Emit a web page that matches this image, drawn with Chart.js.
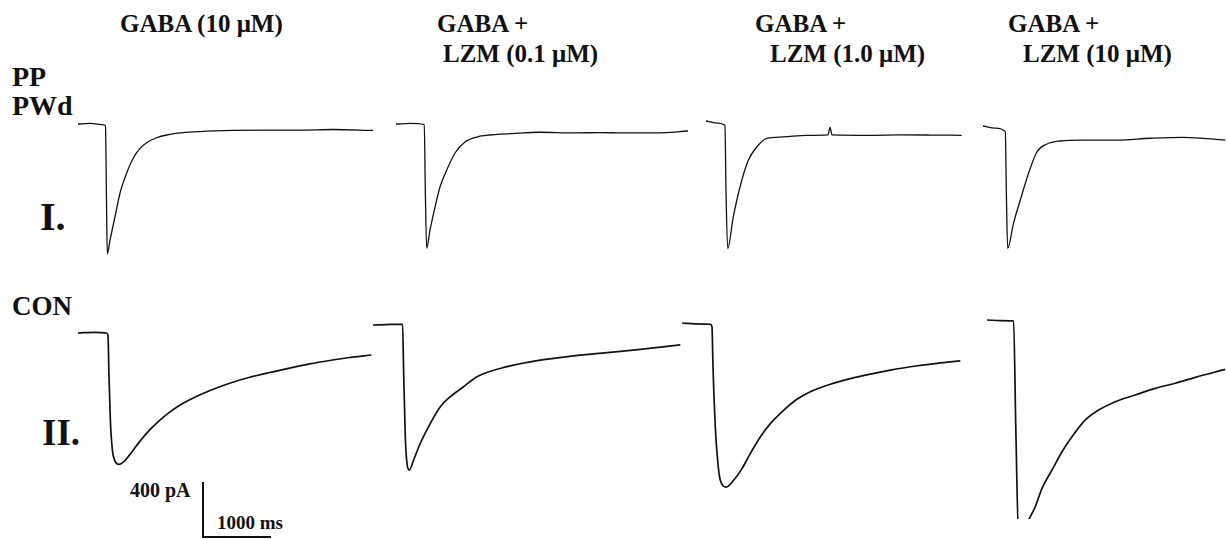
<!DOCTYPE html>
<html>
<head>
<meta charset="utf-8">
<title>GABA currents - lorazepam</title>
<script src="https://cdn.jsdelivr.net/npm/chart.js@4.4.0/dist/chart.umd.min.js"></script>
<style>
    body {
        margin: 0;
        width: 1227px;
        height: 539px;
        overflow: hidden;
        position: relative;
        background: #fff;
        color: #111;
        font-family: "Liberation Serif", "Times New Roman", serif;
        font-weight: bold;
    }
    .lbl { position: absolute; white-space: nowrap; line-height: 1; }
    canvas { position: absolute; }
</style>
</head>
<body>

<div class="lbl" style="left:120px;top:11px;font-size:25px;">GABA (10 μM)</div>
<div class="lbl" style="left:437px;top:11px;font-size:25px;">GABA +</div>
<div class="lbl" style="left:443px;top:41px;font-size:25px;">LZM (0.1 μM)</div>
<div class="lbl" style="left:755px;top:11px;font-size:25px;">GABA +</div>
<div class="lbl" style="left:770px;top:41px;font-size:25px;">LZM (1.0 μM)</div>
<div class="lbl" style="left:1008px;top:11px;font-size:25px;">GABA +</div>
<div class="lbl" style="left:1023px;top:41px;font-size:25px;">LZM (10 μM)</div>

<div class="lbl" style="left:12px;top:63px;font-size:28px;">PP</div>
<div class="lbl" style="left:12px;top:92px;font-size:28px;">PWd</div>
<div class="lbl" style="left:40px;top:197px;font-size:40px;">I.</div>
<div class="lbl" style="left:12px;top:293px;font-size:27px;">CON</div>
<div class="lbl" style="left:42px;top:414px;font-size:37px;">II.</div>
<div class="lbl" style="left:130px;top:480px;font-size:20px;">400 pA</div>
<div class="lbl" style="left:217px;top:513px;font-size:19px;">1000 ms</div>

<canvas id="pI1"></canvas>
<canvas id="pI2"></canvas>
<canvas id="pI3"></canvas>
<canvas id="pI4"></canvas>
<canvas id="pII1"></canvas>
<canvas id="pII2"></canvas>
<canvas id="pII3"></canvas>
<canvas id="pII4"></canvas>
<canvas id="scaleBar"></canvas>

<script>
// Traces: time (ms) from start of sweep, current (pA) relative to holding level

// Row I (PP PWd)
const timeI1 = [0, 176, 382, 404, 419, 431, 471, 544, 618, 716, 813, 912, 1010, 1157, 1304, 1544, 1794, 2279, 2779, 3265, 3750, 4338];
const currI1 = [0, 4, -7, -15, -553, -945, -844, -676, -502, -356, -247, -177, -136, -100, -80, -63, -55, -47, -44, -44, -40, -47];

const timeI2 = [0, 206, 416, 431, 451, 500, 574, 647, 746, 868, 1015, 1187, 1382, 1868, 2118, 2603, 3000, 3338, 3838, 4294];
const currI2 = [0, 4, -4, -480, -904, -771, -604, -458, -335, -211, -131, -95, -80, -65, -60, -65, -62, -65, -65, -51];

const timeI3 = [0, 132, 279, 294, 319, 401, 500, 622, 746, 893, 1132, 1481, 1794, 1824, 1853, 2412, 2853, 3294, 3760];
const currI3 = [0, -13, -31, -504, -928, -698, -480, -286, -189, -126, -116, -104, -101, -46, -101, -104, -101, -102, -104];

const timeI4 = [0, 181, 328, 343, 362, 450, 549, 671, 794, 941, 1137, 1475, 1971, 2460, 2950, 3563];
const currI4 = [0, -15, -41, -465, -889, -705, -538, -342, -187, -131, -109, -102, -102, -89, -82, -102];

// Row II (CON)
const timeII1 = [0, 246, 418, 441, 456, 476, 506, 540, 603, 687, 785, 907, 1054, 1201, 1349, 1496, 1643, 1838, 2035, 2231, 2525, 2819, 3113, 3407, 3701, 3996, 4315];
const currII1 = [0, 5, 0, -17, -320, -635, -853, -926, -955, -930, -870, -790, -705, -635, -575, -525, -485, -440, -400, -365, -322, -287, -255, -225, -200, -178, -160];

const timeII2 = [0, 254, 435, 450, 475, 500, 534, 597, 696, 843, 990, 1137, 1332, 1529, 1971, 2460, 2950, 3441, 3931, 4519];
const currII2 = [0, 4, 5, -327, -812, -1006, -1055, -982, -860, -715, -594, -521, -449, -376, -303, -255, -225, -201, -177, -145];

const timeII3 = [0, 196, 416, 441, 456, 490, 524, 563, 651, 759, 882, 1004, 1151, 1299, 1494, 1691, 1887, 2181, 2475, 2769, 3063, 3357, 3750, 4093];
const currII3 = [0, -6, -9, -29, -320, -756, -999, -1144, -1193, -1144, -1059, -950, -829, -732, -635, -555, -500, -445, -405, -372, -343, -318, -293, -276];

const timeII4 = [0, 196, 391, 424, 465, 515, 612, 710, 809, 956, 1103, 1250, 1446, 1641, 1887, 2181, 2475, 2769, 3063, 3504];
const currII4 = [0, -4, -7, -800, -1588, -1576, -1455, -1358, -1224, -1091, -958, -849, -727, -655, -594, -545, -497, -460, -417, -359];

// Calibration bar
const scaleBarTime = [0, 0, 1000];
const scaleBarCurr = [400, 0, 0];

// Drawing scale shared by every panel (from the 400 pA / 1000 ms bar)
const PX_PER_MS = 68 / 1000;
const PX_PER_PA = 55 / 400;

// Where each sweep starts on the page (its first point)
const panels = [
    { id: 'pI1', time: timeI1, curr: currI1, x: 78, y: 124, w: 310, h: 160 },
    { id: 'pI2', time: timeI2, curr: currI2, x: 396, y: 124, w: 310, h: 160 },
    { id: 'pI3', time: timeI3, curr: currI3, x: 706, y: 121, w: 280, h: 160 },
    { id: 'pI4', time: timeI4, curr: currI4, x: 983, y: 126, w: 254, h: 160 },
    { id: 'pII1', time: timeII1, curr: currII1, x: 78, y: 333, w: 310, h: 206 },
    { id: 'pII2', time: timeII2, curr: currII2, x: 373, y: 325, w: 320, h: 214 },
    { id: 'pII3', time: timeII3, curr: currII3, x: 682, y: 323, w: 300, h: 216 },
    { id: 'pII4', time: timeII4, curr: currII4, x: 987, y: 320, w: 250, h: 219 }
];

const PAD_LEFT = 10;
const PAD_TOP = 20;

function toPoints(time, curr) {
    return time.map((t, i) => ({ x: t, y: curr[i] }));
}

function drawTrace(canvas, points, w, h, padLeft, padTop, opts) {
    canvas.width = w;
    canvas.height = h;
    canvas.style.width = w + 'px';
    canvas.style.height = h + 'px';

    return new Chart(canvas.getContext('2d'), {
        type: 'line',
        data: {
            datasets: [{
                data: points,
                borderColor: '#111',
                borderWidth: opts.lineWidth,
                pointRadius: 0,
                fill: false,
                cubicInterpolationMode: opts.smooth ? 'monotone' : 'default',
                tension: 0
            }]
        },
        options: {
            responsive: false,
            animation: false,
            events: [],
            layout: { padding: 0 },
            plugins: { legend: { display: false }, tooltip: { enabled: false } },
            scales: {
                x: {
                    type: 'linear',
                    display: false,
                    min: -padLeft / PX_PER_MS,
                    max: (w - padLeft) / PX_PER_MS
                },
                y: {
                    type: 'linear',
                    display: false,
                    min: -(h - padTop) / PX_PER_PA,
                    max: padTop / PX_PER_PA
                }
            }
        }
    });
}

panels.forEach(p => {
    const canvas = document.getElementById(p.id);
    canvas.style.left = (p.x - PAD_LEFT) + 'px';
    canvas.style.top = (p.y - PAD_TOP) + 'px';
    const rowTwo = p.id.startsWith('pII');
    drawTrace(canvas, toPoints(p.time, p.curr), p.w, p.h, PAD_LEFT, PAD_TOP,
        { lineWidth: rowTwo ? 1.7 : 1.3, smooth: true });
});

// Calibration bar, corner at (203, 537)
const bar = document.getElementById('scaleBar');
bar.style.left = (203 - 6) + 'px';
bar.style.top = (537 - 59) + 'px';
drawTrace(bar, toPoints(scaleBarTime, scaleBarCurr), 80, 61, 6, 59, { lineWidth: 2, smooth: false });
</script>
</body>
</html>
